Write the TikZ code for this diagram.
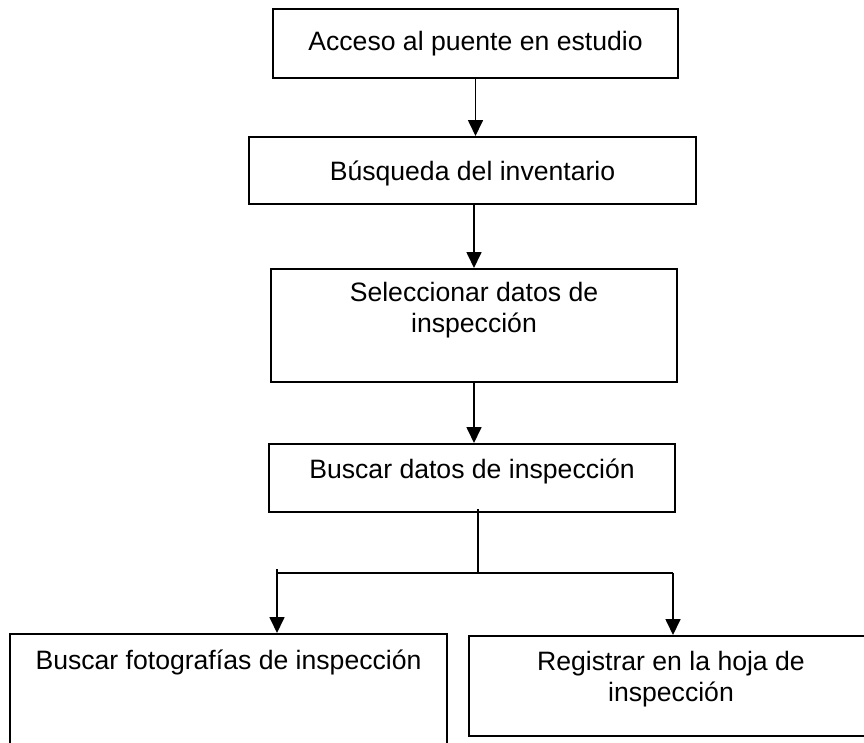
\documentclass[tikz,border=0pt]{standalone}
\usepackage{fontspec}
\setmainfont{Liberation Sans}
\usetikzlibrary{arrows.meta,calc}
\begin{document}
\begin{tikzpicture}[x=1pt,y=-1pt,
  box/.style={draw=black,line width=2pt,rectangle,inner sep=0pt},
  txt/.style={font=\fontsize{26.6}{31}\selectfont,align=center,inner sep=0pt,anchor=center},
  conn/.style={draw=black,line width=1.7pt},
  arr/.style={conn,-{Triangle[width=15pt,length=16pt]}}]
\useasboundingbox (0,0) rectangle (864,742);
\clip (0,0) rectangle (864,742);
% boxes
\node[box,minimum width=405pt,minimum height=69pt] (b1) at (475.5,43.5) {};
\node[box,minimum width=447pt,minimum height=67pt] (b2) at (472.5,170.5) {};
\node[box,minimum width=406pt,minimum height=113pt] (b3) at (474,325.5) {};
\node[box,minimum width=406pt,minimum height=68pt] (b4) at (472,478) {};
\node[box,minimum width=437pt,minimum height=136pt] (b5) at (228.5,702) {};
\node[box,minimum width=404pt,minimum height=100pt] (b6) at (671,686) {};
% texts
\node[txt] (t1) at (475.5,44) {Acceso al puente en estudio};
\node[txt] (t2) at (472.5,173) {Búsqueda del inventario};
\node[txt] (t3) at (474,310.5) {Seleccionar datos de\\inspección};
\node[txt] (t4) at (472,471) {Buscar datos de inspección};
\node[txt] (t5) at (228.5,662) {Buscar fotografías de inspección};
\node[txt] (t6) at (671,679) {Registrar en la hoja de\\inspección};
% connectors
\draw[arr] (b1.south) -- (b1.south |- b2.north);
\draw[arr] (b3.north |- b2.south) -- (b3.north);
\draw[arr] (b3.south) -- (b3.south |- b4.north);
\coordinate (jm) at (478,573);
\coordinate (jl) at (277,573);
\coordinate (jr) at (673,573);
\coordinate (jlt) at (277,569);
\draw[conn] ($(b4.south -| jm)+(0,-4)$) -- (jm);
\draw[conn] (jl) -- (jr);
\draw[arr] (jlt) -- (jl |- b5.north);
\draw[arr] (jr) -- (jr |- b6.north);
\end{tikzpicture}
\end{document}
